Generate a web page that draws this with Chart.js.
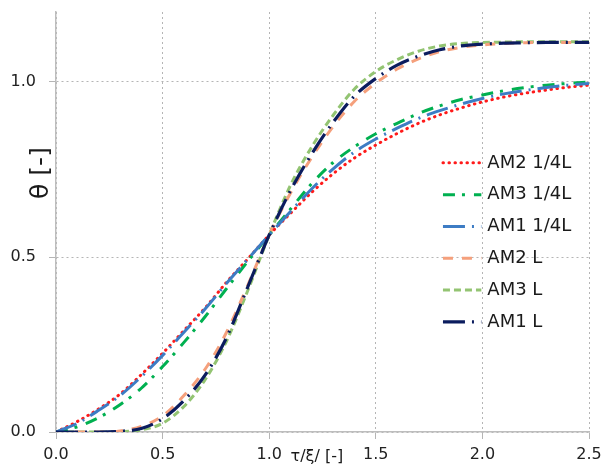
<!DOCTYPE html>
<html>
<head>
<meta charset="utf-8">
<script src="https://cdn.jsdelivr.net/npm/chart.js@4/dist/chart.umd.min.js"></script>
<style>
  html, body { margin: 0; padding: 0; background: #fff; }
  #wrap { width: 605px; height: 469px; }
</style>
</head>
<body>
<div id="wrap"><canvas id="myChart" width="605" height="469"></canvas></div>
<script>
// tau/xi values (x axis)
const tau = [0.0, 0.1, 0.2, 0.3, 0.4, 0.5, 0.6, 0.7, 0.8, 0.9, 1.0, 1.1, 1.2,
             1.3, 1.4, 1.5, 1.6, 1.7, 1.8, 1.9, 2.0, 2.1, 2.2, 2.3, 2.4, 2.5];

// theta values
const am2Quarter = [0.0, 0.03, 0.066, 0.108, 0.164, 0.225, 0.29, 0.355, 0.428, 0.495, 0.563, 0.625, 0.685,
                    0.738, 0.783, 0.82, 0.853, 0.882, 0.906, 0.926, 0.943, 0.957, 0.968, 0.977, 0.985, 0.991];
const am3Quarter = [0.0, 0.015, 0.041, 0.078, 0.125, 0.187, 0.256, 0.33, 0.41, 0.488, 0.563, 0.637, 0.71,
                    0.77, 0.815, 0.852, 0.882, 0.91, 0.932, 0.95, 0.963, 0.975, 0.984, 0.991, 0.996, 1.0];
const am1Quarter = [0.0, 0.025, 0.062, 0.104, 0.158, 0.219, 0.285, 0.352, 0.425, 0.494, 0.563, 0.63, 0.695,
                    0.752, 0.80, 0.837, 0.868, 0.896, 0.918, 0.937, 0.953, 0.966, 0.976, 0.984, 0.991, 0.996];
const am2Full = [0.0, 0.0, 0.0, 0.003, 0.016, 0.046, 0.104, 0.18, 0.285, 0.42, 0.563, 0.683, 0.785,
                 0.873, 0.945, 0.997, 1.037, 1.066, 1.087, 1.099, 1.106, 1.11, 1.112, 1.113, 1.113, 1.113];
const am3Full = [0.0, 0.0, 0.0, 0.001, 0.006, 0.025, 0.073, 0.15, 0.26, 0.405, 0.563, 0.705, 0.815,
                 0.905, 0.98, 1.03, 1.064, 1.088, 1.103, 1.11, 1.113, 1.114, 1.115, 1.115, 1.115, 1.115];
const am1Full = [0.0, 0.0, 0.0, 0.002, 0.01, 0.038, 0.09, 0.163, 0.27, 0.415, 0.563, 0.69, 0.795,
                 0.885, 0.96, 1.01, 1.048, 1.074, 1.092, 1.103, 1.108, 1.111, 1.112, 1.113, 1.113, 1.113];

const seriesNames = ["AM2 1/4L", "AM3 1/4L", "AM1 1/4L", "AM2 L", "AM3 L", "AM1 L"];
const xTicks = [0.0, 0.5, 1.0, 1.5, 2.0, 2.5];
const yTicks = [0.0, 0.5, 1.0];

const TICK_FONT = "DejaVu Sans";

function toPoints(values) {
    return tau.map((t, i) => ({ x: t, y: values[i] }));
}

function makeSet(name, values, color, dash, width, cap, order) {
    return {
        label: name,
        data: toPoints(values),
        borderColor: color,
        backgroundColor: color,
        borderDash: dash,
        borderWidth: width,
        borderCapStyle: cap,
        pointRadius: 0,
        cubicInterpolationMode: "monotone",
        fill: false,
        order: order
    };
}

const datasets = [
    makeSet(seriesNames[0], am2Quarter, "#ff1a1a", [0.5, 5.5], 3, "round", 3),
    makeSet(seriesNames[1], am3Quarter, "#00b050", [12, 7, 3, 9], 3, "butt", 2),
    makeSet(seriesNames[2], am1Quarter, "#3d7cc4", [22, 7, 2, 7], 3, "butt", 1),
    makeSet(seriesNames[3], am2Full, "#f5a07c", [10, 9], 3, "butt", 5),
    makeSet(seriesNames[4], am3Full, "#93c472", [7, 4], 3, "butt", 6),
    makeSet(seriesNames[5], am1Full, "#0b1c5e", [22, 7, 2, 7], 3.2, "butt", 0)
];

// legend drawn inside the plot, plus the two axis titles
const annotations = {
    id: "annotations",
    afterDraw(chart) {
        const ctx = chart.ctx;
        const xs = chart.scales.x;
        const ys = chart.scales.y;
        ctx.save();

        // legend
        const sampleLeft = xs.getPixelForValue(1.815);
        const sampleRight = xs.getPixelForValue(1.995);
        const textLeft = sampleRight + 6;
        let rowY = ys.getPixelForValue(0.769);
        ctx.font = "18px " + TICK_FONT;
        ctx.textBaseline = "middle";
        ctx.textAlign = "left";
        chart.data.datasets.forEach(ds => {
            ctx.save();
            ctx.strokeStyle = ds.borderColor;
            ctx.lineWidth = ds.borderWidth;
            ctx.lineCap = ds.borderCapStyle;
            ctx.setLineDash(ds.borderDash);
            ctx.beginPath();
            ctx.moveTo(sampleLeft, rowY);
            ctx.lineTo(sampleRight, rowY);
            ctx.stroke();
            ctx.restore();
            ctx.fillStyle = "#1a1a1a";
            ctx.fillText(ds.label, textLeft, rowY);
            rowY += 31.8;
        });

        // x title sits on the tick label row
        ctx.font = "16px " + TICK_FONT;
        ctx.fillStyle = "#1a1a1a";
        ctx.textAlign = "left";
        ctx.fillText("τ/ξ/ [-]", xs.getPixelForValue(1.1), chart.chartArea.bottom + 25);

        // y title
        ctx.translate(chart.chartArea.left - 15, ys.getPixelForValue(0.74));
        ctx.rotate(-Math.PI / 2);
        ctx.textAlign = "center";
        ctx.font = "25px " + TICK_FONT;
        ctx.fillText("θ [-]", 0, 0);
        ctx.restore();
    }
};

function noEdgePadding(scale) {
    scale.paddingTop = 0;
    scale.paddingBottom = 0;
    scale.paddingLeft = 0;
    scale.paddingRight = 0;
}

const chartInstance = new Chart(document.getElementById("myChart").getContext("2d"), {
    type: "line",
    data: { datasets: datasets },
    options: {
        responsive: false,
        animation: false,
        events: [],
        layout: { padding: { top: 12, right: 16, left: 0, bottom: 0 } },
        plugins: {
            legend: { display: false },
            tooltip: { enabled: false }
        },
        scales: {
            x: {
                type: "linear",
                min: 0,
                max: 2.5,
                afterFit: scale => { scale.height = 37; noEdgePadding(scale); },
                afterBuildTicks: scale => { scale.ticks = xTicks.map(v => ({ value: v })); },
                ticks: {
                    padding: 6,
                    color: "#222",
                    font: { family: TICK_FONT, size: 16 },
                    callback: v => v.toFixed(1)
                },
                grid: {
                    color: "#b5b5b5",
                    lineWidth: 1,
                    tickLength: 7,
                    tickColor: "#b5b5b5",
                    tickBorderDash: []
                },
                border: { color: "#bdbdbd", width: 1.5, dash: [2, 3] }
            },
            y: {
                type: "linear",
                min: 0,
                max: 1.2,
                afterFit: scale => { scale.width = 56; noEdgePadding(scale); },
                afterBuildTicks: scale => { scale.ticks = yTicks.map(v => ({ value: v })); },
                ticks: {
                    padding: 13,
                    color: "#222",
                    font: { family: TICK_FONT, size: 16 },
                    callback: v => v.toFixed(1)
                },
                grid: {
                    color: "#b5b5b5",
                    lineWidth: 1,
                    tickLength: 7,
                    tickColor: "#b5b5b5",
                    tickBorderDash: []
                },
                border: { color: "#bdbdbd", width: 1.5, dash: [2, 3] }
            }
        }
    },
    plugins: [annotations]
});
</script>
</body>
</html>
